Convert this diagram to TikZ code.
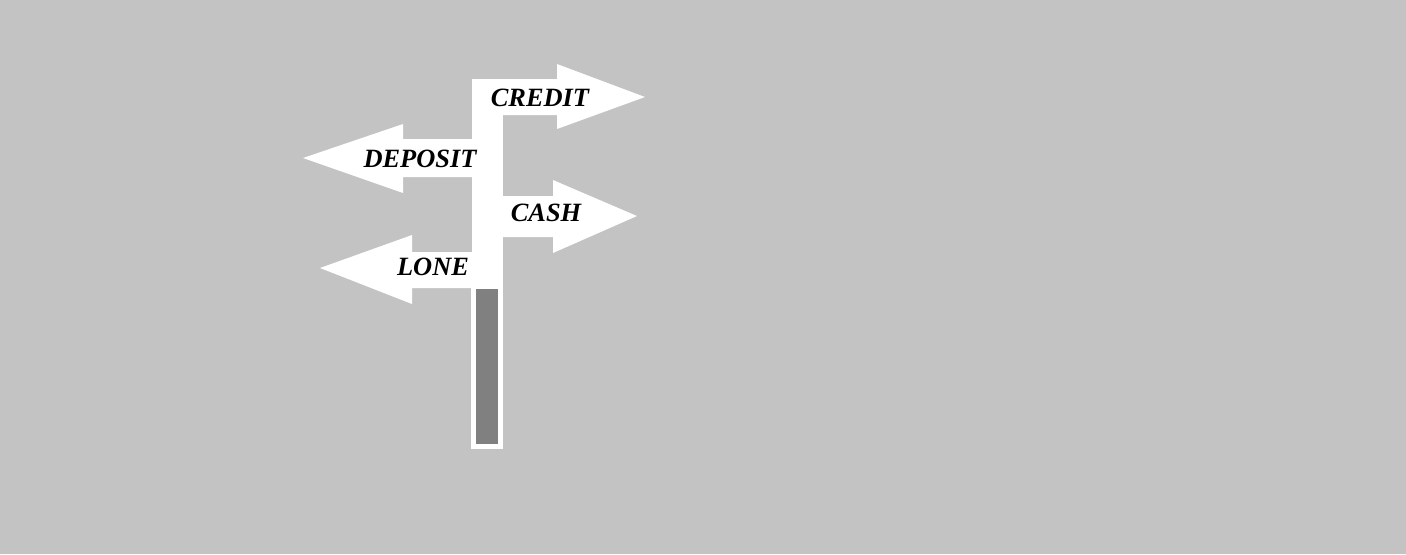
\documentclass[tikz,border=0pt]{standalone}
\usepackage{fontspec}
\setmainfont{Liberation Serif}
\usetikzlibrary{positioning}
\definecolor{bggray}{RGB}{195,195,195}
\definecolor{postgray}{RGB}{128,128,128}
\tikzstyle{board}     = [fill=white, draw=none]
\tikzstyle{signtext}  = [font=\fontsize{7.5}{9}\selectfont\bfseries\itshape, inner sep=0pt, outer sep=0pt, align=center]
\begin{document}
\begin{tikzpicture}[x=0.01cm, y=-0.01cm]

    \fill[bggray] (0,0) rectangle (1406,554);
    \useasboundingbox (0,0) rectangle (1406,554);

    % white bar and arrows
    \fill[board] (472,79) rectangle (503,289);
    \fill[board] (472,79) -- (557,79) -- (557,64) -- (645,97) -- (557,129) -- (557,115) -- (503,115) -- cycle;
    \fill[board] (472,139) -- (403,139) -- (403,124) -- (303,158) -- (403,193) -- (403,177) -- (472,177) -- cycle;
    \fill[board] (503,196) -- (553,196) -- (553,180) -- (637,216) -- (553,253) -- (553,237) -- (503,237) -- cycle;
    \fill[board] (472,252) -- (412,252) -- (412,235) -- (320,268) -- (412,304) -- (412,288) -- (472,288) -- cycle;

    % post
    \fill[board] (471,288) rectangle (503,449);
    \fill[postgray] (476,289) rectangle (498,444);

    \node[signtext] (credit)  at (540,98)  {CREDIT};
    \node[signtext] (deposit) at (420,159) {DEPOSIT};
    \node[signtext] (cash)    at (546,213) {CASH};
    \node[signtext] (lone)    at (433,267) {LONE};

\end{tikzpicture}
\end{document}
